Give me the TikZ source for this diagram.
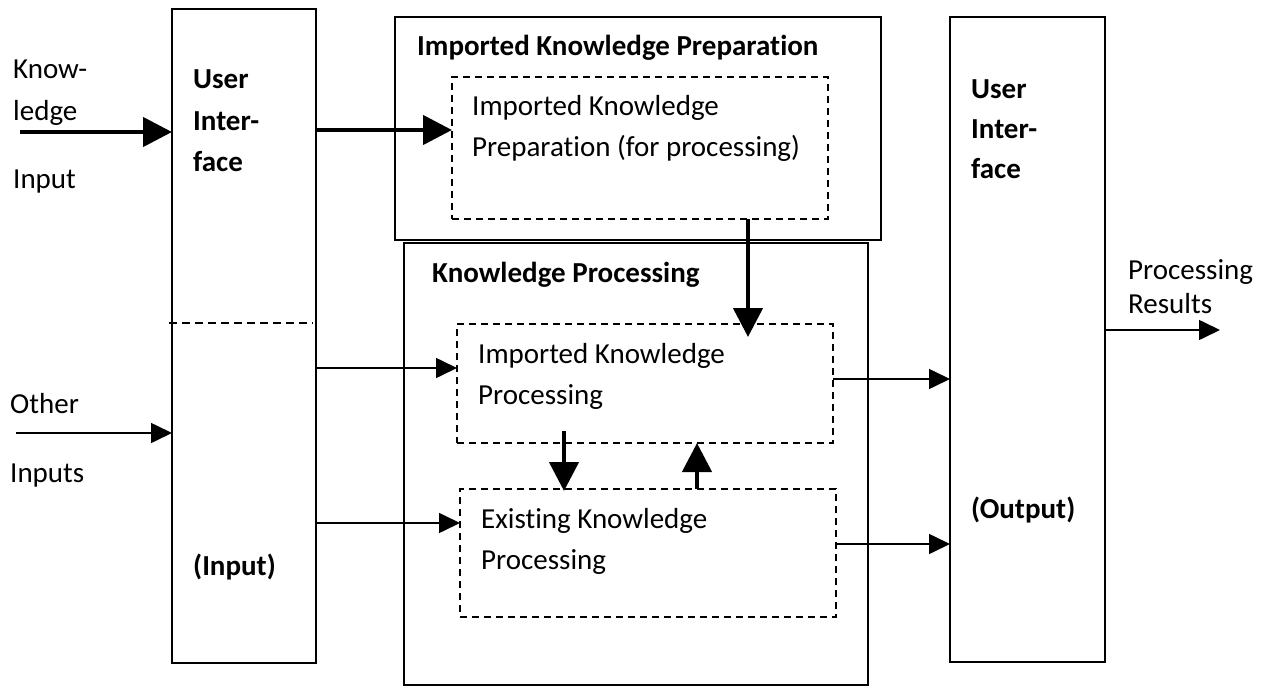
\documentclass[tikz,border=0pt]{standalone}
\usepackage{fontspec}
\setmainfont{Carlito}[Ligatures={NoCommon,NoRare,NoContextual}, Contextuals=NoAlternate]
\usetikzlibrary{arrows.meta}
\newcommand{\nolig}{\kern0pt{}}
\tikzset{
  box/.style={draw, line width=1.6pt, anchor=north west, inner sep=0pt, outer sep=0pt},
  dbox/.style={box, line width=1.3pt, dash pattern=on 7pt off 5pt},
  txt/.style={anchor=base west, inner sep=0pt, font=\fontsize{29}{35}\selectfont},
  btxt/.style={anchor=base west, inner sep=0pt, font=\fontsize{29}{35}\selectfont\bfseries},
  bigarrow/.style={line width=4.5pt, -{Triangle[length=29pt,width=29pt]}},
  smallarrow/.style={line width=1.6pt, -{Triangle[length=21pt,width=20pt]}},
  divider/.style={line width=1.3pt, dash pattern=on 8pt off 5pt},
}
\begin{document}
\begin{tikzpicture}[x=1pt,y=-1pt]
\useasboundingbox[fill=white] (0,0) rectangle (1267,688);

% boxes
\node[box, minimum width=144pt, minimum height=654pt] (uiL) at (172,9) {};
\node[box, minimum width=486pt, minimum height=223pt] (ikp) at (395,17) {};
\node[dbox, minimum width=376pt, minimum height=142pt] (ikpin) at (452,77) {};
\node[box, minimum width=464pt, minimum height=442pt] (kp) at (404,243) {};
\node[dbox, minimum width=376pt, minimum height=119pt] (ikproc) at (457,324) {};
\node[dbox, minimum width=376pt, minimum height=128pt] (ekproc) at (460,489) {};
\node[box, minimum width=155pt, minimum height=645pt] (uiR) at (950,17) {};

% divider in left user interface
\coordinate (dvA) at (169,323);
\coordinate (dvB) at (313,323);
\draw[divider] (dvA) -- (dvB);

% texts: left side inputs
\node[txt] (t1) at (13,78) {Know-};
\node[txt] (t2) at (13,120) {ledge};
\node[txt] (t3) at (13,188) {Input};
\node[txt] (t4) at (10,413) {Other};
\node[txt] (t5) at (10,482) {Inputs};

% left user interface
\node[btxt] (u1) at (193,88) {User};
\node[btxt] (u2) at (193,130) {Inter-};
\node[btxt] (u3) at (193,171) {face};
\node[btxt] (u4) at (193,575) {(Input)};

% imported knowledge preparation
\node[btxt] (p0) at (417,55) {Imported Knowledge Preparat\nolig ion};
\node[txt] (p1) at (472,115) {Imported Knowledge};
\node[txt] (p2) at (472,156) {Preparat\nolig ion (for processing)};

% knowledge processing
\node[btxt] (k0) at (432,282) {Knowledge Processing};
\node[txt] (k1) at (478,363) {Imported Knowledge};
\node[txt] (k2) at (478,404) {Processing};
\node[txt] (k3) at (481,528) {Existing Knowledge};
\node[txt] (k4) at (481,569) {Processing};

% right user interface
\node[btxt] (r1) at (971,98) {User};
\node[btxt] (r2) at (971,138) {Inter-};
\node[btxt] (r3) at (971,178) {face};
\node[btxt] (r4) at (971,518) {(Output)};

% outputs
\node[txt] (o1) at (1128,279) {Processing};
\node[txt] (o2) at (1128,313) {Results};

% connectors
\coordinate (kin) at (20,132);
\draw[bigarrow] (kin) -- (kin -| uiL.west);

\coordinate (oin) at (16,433);
\draw[smallarrow] (oin) -- (oin -| uiL.west);

\coordinate (y130) at (0,130);
\draw[bigarrow] (uiL.east |- y130) -- (ikpin.west |- y130);

\coordinate (x748) at (748,337);
\draw[bigarrow] (ikpin.south -| x748) -- (x748);

\coordinate (y368) at (0,368);
\draw[smallarrow] (uiL.east |- y368) -- (ikproc.west |- y368);
\coordinate (y523) at (0,523);
\draw[smallarrow] (uiL.east |- y523) -- (ekproc.west |- y523);

\coordinate (dnA) at (564,431);
\coordinate (dnB) at (564,491);
\draw[bigarrow] (dnA) -- (dnB);
\coordinate (upx) at (697,0);
\draw[bigarrow] (ekproc.north -| upx) -- (ikproc.south -| upx);

\coordinate (y379) at (0,379);
\draw[smallarrow] (ikproc.east |- y379) -- (uiR.west |- y379);
\coordinate (y544) at (0,544);
\draw[smallarrow] (ekproc.east |- y544) -- (uiR.west |- y544);

\coordinate (outp) at (1220,330);
\draw[smallarrow] (uiR.east |- outp) -- (outp);
\end{tikzpicture}
\end{document}
